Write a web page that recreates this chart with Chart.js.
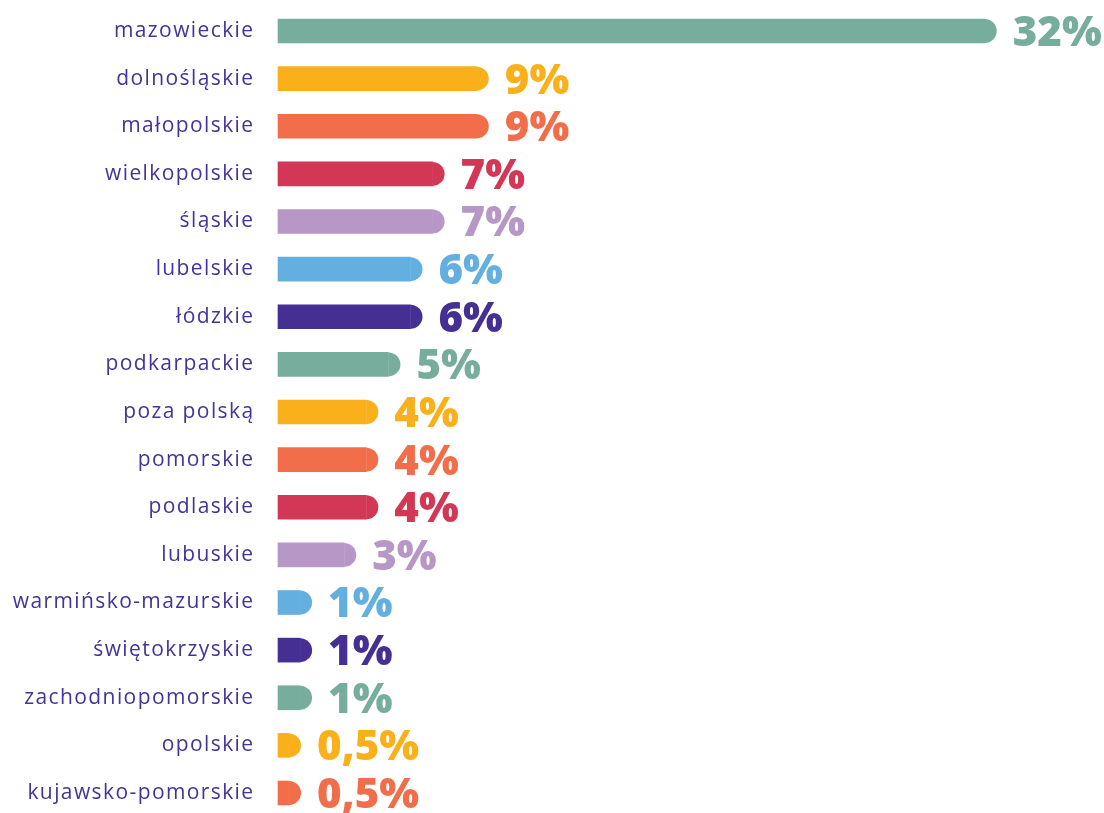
<!DOCTYPE html>
<html lang="pl">
<head>
<meta charset="utf-8">
<title>Województwa</title>
<script src="https://cdn.jsdelivr.net/npm/chart.js"></script>
<style>
  html, body { margin: 0; padding: 0; background: #fff; overflow: hidden; }
  #wrap { width: 1104px; height: 813px; position: relative; }
</style>
</head>
<body>
<div id="wrap"><canvas id="chart-regions"></canvas></div>
<script>
const regions = [
  'mazowieckie', 'dolnośląskie', 'małopolskie', 'wielkopolskie', 'śląskie',
  'lubelskie', 'łódzkie', 'podkarpackie', 'poza polską', 'pomorskie',
  'podlaskie', 'lubuskie', 'warmińsko-mazurskie', 'świętokrzyskie',
  'zachodniopomorskie', 'opolskie', 'kujawsko-pomorskie'
];
const shares = [32, 9, 9, 7, 7, 6, 6, 5, 4, 4, 4, 3, 1, 1, 1, 0.5, 0.5];
const palette = ['#76ad9d', '#f9b01b', '#f26e4a', '#d33756', '#b697c6', '#63b0e0', '#452f93'];

const labelColor = '#45329a';
const barColors = regions.map((_, i) => palette[i % palette.length]);
const fmt = v => String(v).replace('.', ',') + '%';

// wider tracking for the region names on the left
const tracking = {
  id: 'tracking',
  beforeDraw(chart) { chart.ctx.letterSpacing = '1.4px'; },
  afterDraw(chart) { chart.ctx.letterSpacing = '0px'; }
};

// rounded right cap + value label next to every bar
const capsAndValues = {
  id: 'capsAndValues',
  afterDatasetsDraw(chart) {
    const { ctx } = chart;
    const meta = chart.getDatasetMeta(0);
    ctx.save();
    ctx.letterSpacing = '0px';
    meta.data.forEach((bar, i) => {
      const { x, y, height } = bar.getProps(['x', 'y', 'height'], true);
      const r = height / 2;
      ctx.fillStyle = barColors[i];
      ctx.beginPath();
      ctx.arc(x, y, r, -Math.PI / 2, Math.PI / 2);
      ctx.closePath();
      ctx.fill();

      ctx.font = '800 42px "Open Sans"';
      ctx.textAlign = 'left';
      ctx.textBaseline = 'middle';
      ctx.fillText(fmt(shares[i]), x + r + 16, y + 3);
    });
    ctx.restore();
  }
};

new Chart(document.getElementById('chart-regions'), {
  type: 'bar',
  data: {
    labels: regions,
    datasets: [{
      data: shares,
      backgroundColor: barColors,
      borderWidth: 0,
      borderSkipped: false,
      barThickness: 24,
      clip: false
    }]
  },
  options: {
    indexAxis: 'y',
    responsive: true,
    maintainAspectRatio: false,
    animation: false,
    layout: { padding: { top: 31, bottom: 20, left: 0, right: 53 } },
    plugins: {
      legend: { display: false },
      tooltip: { enabled: false }
    },
    scales: {
      x: { display: false, min: 0, max: 35 },
      y: {
        offset: false,
        // hidden tick marks only push the names away from the bars
        grid: { display: false, drawTicks: true, tickLength: 23.5 },
        border: { display: false },
        ticks: {
          color: labelColor,
          padding: 0,
          autoSkip: false,
          font: { family: 'Open Sans', size: 21 }
        },
        afterFit: axis => { axis.width = 278; }
      }
    }
  },
  plugins: [tracking, capsAndValues]
});
</script>
</body>
</html>
